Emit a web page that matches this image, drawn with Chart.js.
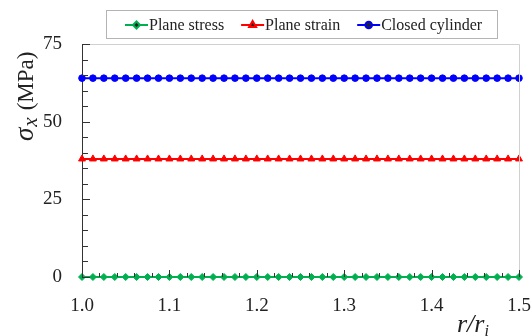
<!DOCTYPE html>
<html>
<head>
<meta charset="utf-8">
<script src="https://cdn.jsdelivr.net/npm/chart.js@4/dist/chart.umd.min.js"></script>
<style>
  html, body { margin: 0; padding: 0; background: #fff; }
  #wrap { width: 532px; height: 336px; }
</style>
</head>
<body>
<div id="wrap"><canvas id="chart" width="532" height="336"></canvas></div>
<script>
// r / r_i positions of the plotted points
const rRatio = [1.0, 1.0125, 1.025, 1.0375, 1.05, 1.0625, 1.075, 1.0875, 1.1, 1.1125,
  1.125, 1.1375, 1.15, 1.1625, 1.175, 1.1875, 1.2, 1.2125, 1.225, 1.2375,
  1.25, 1.2625, 1.275, 1.2875, 1.3, 1.3125, 1.325, 1.3375, 1.35, 1.3625,
  1.375, 1.3875, 1.4, 1.4125, 1.425, 1.4375, 1.45, 1.4625, 1.475, 1.4875, 1.5];

// sigma_x (MPa) for each case
const planeStress = [0, 0, 0, 0, 0, 0, 0, 0, 0, 0, 0, 0, 0, 0, 0, 0, 0, 0, 0, 0,
  0, 0, 0, 0, 0, 0, 0, 0, 0, 0, 0, 0, 0, 0, 0, 0, 0, 0, 0, 0, 0];
const planeStrain = [38, 38, 38, 38, 38, 38, 38, 38, 38, 38, 38, 38, 38, 38, 38, 38, 38, 38, 38, 38,
  38, 38, 38, 38, 38, 38, 38, 38, 38, 38, 38, 38, 38, 38, 38, 38, 38, 38, 38, 38, 38];
const closedCylinder = [64, 64, 64, 64, 64, 64, 64, 64, 64, 64, 64, 64, 64, 64, 64, 64, 64, 64, 64, 64,
  64, 64, 64, 64, 64, 64, 64, 64, 64, 64, 64, 64, 64, 64, 64, 64, 64, 64, 64, 64, 64];

const seriesNames = ["Plane stress", "Plane strain", "Closed cylinder"];
const xTicks = [1.0, 1.1, 1.2, 1.3, 1.4, 1.5];
const yTicks = [0, 25, 50, 75];

function toPoints(ys){
    return ys.map(function(y, i){ return {x: rRatio[i], y: y}; });
}

const serif = "'Liberation Serif', 'DejaVu Serif', serif";

// minor/major inward ticks + light frame
const tickPlugin = {
    id: 'tickPlugin',
    afterDatasetsDraw(chart){
        const ctx = chart.ctx;
        const area = chart.chartArea;
        const xs = chart.scales.x, ys = chart.scales.y;
        ctx.save();
        ctx.strokeStyle = '#d0d0d0';
        ctx.lineWidth = 1;
        ctx.beginPath();
        ctx.moveTo(area.left, area.top + 0.5);
        ctx.lineTo(area.right + 0.5, area.top + 0.5);
        ctx.lineTo(area.right + 0.5, area.bottom);
        ctx.stroke();

        ctx.strokeStyle = '#333';
        ctx.beginPath();
        for (let k = 0; k <= 25; k++) {
            let v = 1 + k * 0.02;
            let px = Math.round(xs.getPixelForValue(v)) + 0.5;
            let len = (k % 5 === 0) ? 7 : 4;
            ctx.moveTo(px, area.bottom);
            ctx.lineTo(px, area.bottom - len);
        }
        for (let k = 0; k <= 15; k++) {
            let py = Math.round(ys.getPixelForValue(k * 5)) + 0.5;
            let len = (k % 5 === 0) ? 8 : 6;
            ctx.moveTo(area.left, py);
            ctx.lineTo(area.left + len, py);
        }
        ctx.stroke();
        ctx.restore();
    }
};

// legend box, axis titles
const textPlugin = {
    id: 'textPlugin',
    afterDraw(chart){
        const ctx = chart.ctx;
        ctx.save();
        // legend
        ctx.strokeStyle = '#b4b4b4';
        ctx.lineWidth = 1;
        ctx.strokeRect(106.5, 10.5, 391, 28);
        ctx.font = '16px ' + serif;
        ctx.textBaseline = 'middle';
        ctx.fillStyle = '#222';
        let x = 125;
        const cy = 25;
        chart.data.datasets.forEach(function(ds){
            ctx.strokeStyle = ds.borderColor;
            ctx.lineWidth = 2;
            ctx.beginPath();
            ctx.moveTo(x, cy);
            ctx.lineTo(x + 23, cy);
            ctx.stroke();
            Chart.helpers.drawPoint(ctx, {pointStyle: ds.pointStyle, radius: ds.pointRadius, borderWidth: 1, rotation: 0}, x + 11.5, cy);
            ctx.fillStyle = '#222';
            ctx.fillText(ds.label, x + 24, cy + 1);
            x += 24 + ctx.measureText(ds.label).width + 17;
        });

        // y title
        ctx.save();
        ctx.translate(33, 141);
        ctx.rotate(-Math.PI / 2);
        ctx.fillStyle = '#222';
        ctx.textBaseline = 'alphabetic';
        ctx.font = 'italic 27px ' + serif;
        ctx.fillText('σ', 0, 0);
        let w = ctx.measureText('σ').width;
        ctx.font = 'italic 21px ' + serif;
        ctx.fillText('x', w + 1, 4);
        w += 1 + ctx.measureText('x').width + 7;
        ctx.font = '23px ' + serif;
        ctx.fillText('(MPa)', w, 0);
        ctx.restore();

        // x title
        ctx.fillStyle = '#222';
        ctx.textBaseline = 'alphabetic';
        ctx.font = 'italic 26px ' + serif;
        ctx.fillText('r/r', 457, 332);
        let w2 = ctx.measureText('r/r').width;
        ctx.font = 'italic 16px ' + serif;
        ctx.fillText('i', 457 + w2, 336);
        ctx.restore();
    }
};

const colors = ['#00b050', '#ff0000', '#0000ff'];
const styles = ['rectRot', 'triangle', 'circle'];
const radii = [3.5, 4, 3.3];
const values = [planeStress, planeStrain, closedCylinder];

const datasets = values.map(function(v, i){
    return {
        label: seriesNames[i],
        data: toPoints(v),
        borderColor: colors[i],
        backgroundColor: colors[i],
        pointBackgroundColor: colors[i],
        pointBorderColor: colors[i],
        pointStyle: styles[i],
        pointRadius: radii[i],
        pointBorderWidth: 1,
        borderWidth: 2,
        clip: false
    };
});

new Chart(document.getElementById('chart'), {
    type: 'line',
    data: {datasets: datasets},
    options: {
        responsive: false,
        animation: false,
        layout: {padding: {top: 44, right: 13, left: 0, bottom: 0}},
        plugins: {legend: {display: false}, tooltip: {enabled: false}},
        scales: {
            x: {
                type: 'linear',
                min: 1.0,
                max: 1.5,
                afterBuildTicks: function(s){ s.ticks = xTicks.map(function(v){ return {value: v}; }); },
                afterFit: function(s){ s.height = 59; s.paddingLeft = 0; s.paddingRight = 0; },
                grid: {display: false, drawTicks: false},
                border: {display: true, color: '#333', width: 1},
                ticks: {
                    padding: 18,
                    color: '#222',
                    font: {family: serif, size: 19},
                    maxRotation: 0,
                    callback: function(v){ return v.toFixed(1); }
                }
            },
            y: {
                min: 0,
                max: 75,
                afterBuildTicks: function(s){ s.ticks = yTicks.map(function(v){ return {value: v}; }); },
                afterFit: function(s){ s.width = 82; s.paddingTop = 0; s.paddingBottom = 0; },
                grid: {display: false, drawTicks: false},
                border: {display: true, color: '#333', width: 1},
                ticks: {
                    padding: 20,
                    color: '#222',
                    font: {family: serif, size: 19}
                }
            }
        }
    },
    plugins: [tickPlugin, textPlugin]
});
</script>
</body>
</html>
